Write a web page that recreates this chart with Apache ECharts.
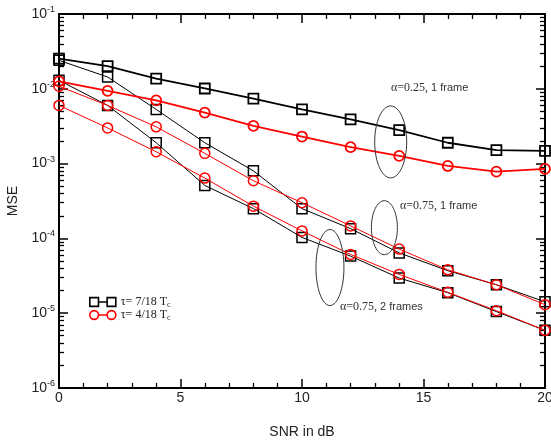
<!DOCTYPE html>
<html lang="en">
<head>
<meta charset="UTF-8">
<title>MSE vs SNR</title>
<script src="https://cdn.jsdelivr.net/npm/echarts@6/dist/echarts.min.js"></script>
<style>
    html, body { margin: 0; padding: 0; background: #fff; }
    #main { width: 551px; height: 444px; }
</style>
</head>
<body>
<div id="main"></div>
<script>
    // SNR (dB) sample points
    var snr = [0, 2, 4, 6, 8, 10, 12, 14, 16, 18, 20];

    // tau = 7/18 Tc (black squares)
    var t7_a25_1f = [0.0253, 0.0201, 0.0137, 0.0101, 0.0074, 0.0053, 0.0039, 0.0028, 0.0019, 0.00151, 0.00148];
    var t7_a75_1f = [0.024, 0.0144, 0.0053, 0.0019, 0.0008, 0.00025, 0.000135, 0.000064, 0.000037, 0.000024, 0.0000142];
    var t7_a75_2f = [0.013, 0.0060, 0.0019, 0.00051, 0.00025, 0.000103, 0.000058, 0.0000295, 0.0000188, 0.0000105, 0.0000059];

    // tau = 4/18 Tc (red circles)
    var t4_a25_1f = [0.0126, 0.0094, 0.0070, 0.0048, 0.0032, 0.0023, 0.00166, 0.00127, 0.00093, 0.00078, 0.00085];
    var t4_a75_1f = [0.0108, 0.0060, 0.0031, 0.00137, 0.00059, 0.0003, 0.000147, 0.000072, 0.000038, 0.000024, 0.000013];
    var t4_a75_2f = [0.0060, 0.0030, 0.00144, 0.00064, 0.00027, 0.000126, 0.000061, 0.000033, 0.000019, 0.0000108, 0.0000059];

    // minor ticks of the log axis: 2..9 in every decade
    var yMinorTicks = [];
    for (var k = -6; k < -1; k++) {
        for (var m = 2; m <= 9; m++) {
            yMinorTicks.push(m * Math.pow(10, k));
        }
    }

    // annotations: text + ellipse, placed in data coordinates
    var notes = [
        {a: 'α=0.25,', b: ' 1 frame', tx: 13.66, ty: 0.0102, ex: 13.65, ey: 0.00195, rx: 16, ry: 36},
        {a: 'α=0.75,', b: ' 1 frame', tx: 14.03, ty: 0.000271, ex: 13.39, ey: 0.000139, rx: 13, ry: 27},
        {a: 'α=0.75,', b: ' 2 frames', tx: 11.56, ty: 0.0000122, ex: 11.15, ey: 0.0000408, rx: 14, ry: 38}
    ];

    var T7 = 'τ= 7/18 T';
    var T4 = 'τ= 4/18 T';

    function pairs(vals) {
        return snr.map(function (x, i) { return [x, vals[i]]; });
    }

    function mkSeries(name, vals, color, symbol, lw, bw) {
        return {
            name: name,
            type: 'line',
            data: pairs(vals),
            symbol: symbol,
            symbolSize: 10,
            showAllSymbol: true,
            lineStyle: {color: color, width: lw},
            itemStyle: {color: 'rgba(0,0,0,0)', borderColor: color, borderWidth: bw},
            emphasis: {disabled: true},
            z: color === '#ff0000' ? 3 : 2
        };
    }

    var sqIcon = 'path://M0,0 L10,0 L10,10 L0,10 Z M10,5 L20,5 M20,0 L30,0 L30,10 L20,10 Z';
    var ciIcon = 'path://M0,5 A5,5 0 1,1 10,5 A5,5 0 1,1 0,5 Z M10,5 L20,5 M20,5 A5,5 0 1,1 30,5 A5,5 0 1,1 20,5 Z';

    var sans = 'Liberation Sans, Arial, sans-serif';
    var serif = 'Liberation Serif, Times New Roman, serif';

    function xAx(pos, labels) {
        return {
            type: 'value', position: pos, min: 0, max: 20, interval: 5,
            axisLine: {lineStyle: {color: '#000', width: 2}},
            axisTick: {inside: true, length: 9, lineStyle: {color: '#000', width: 1.5}},
            minorTick: {show: true, splitNumber: 5, length: 5, lineStyle: {color: '#000', width: 1.3}},
            splitLine: {show: false},
            axisLabel: {show: labels, fontSize: 14, margin: 3, fontFamily: sans, color: '#222'},
            name: labels ? 'SNR in dB' : '',
            nameLocation: 'middle', nameGap: 37,
            nameTextStyle: {fontSize: 14, fontFamily: sans, color: '#222'}
        };
    }

    function yAx(pos, minor, labels) {
        var ax = {
            type: 'log', logBase: 10, position: pos, min: 0.000001, max: 0.1,
            axisLine: {show: !minor, lineStyle: {color: '#000', width: 2}},
            axisTick: {inside: true, length: minor ? 5 : 9, lineStyle: {color: '#000', width: minor ? 1.3 : 1.5}},
            splitLine: {show: false},
            axisLabel: {show: false}
        };
        if (minor) ax.axisTick.customValues = yMinorTicks;
        if (labels) {
            ax.axisLabel = {
                show: true, margin: 4,
                formatter: function (v) {
                    return '{b|10}{s|' + Math.round(Math.log10(v)) + '}';
                },
                rich: {
                    b: {fontSize: 14, fontFamily: sans, color: '#222'},
                    s: {fontSize: 9, fontFamily: sans, color: '#222', padding: [0, 0, 9, 0]}
                }
            };
            ax.name = 'MSE';
            ax.nameLocation = 'middle';
            ax.nameGap = 38;
            ax.nameTextStyle = {fontSize: 14, fontFamily: sans, color: '#222'};
        }
        return ax;
    }

    var myChart = echarts.init(document.getElementById('main'));

    var option = {
        animation: false,
        backgroundColor: '#fff',
        grid: {left: 59, right: 6, top: 14, bottom: 56, containLabel: false, outerBoundsMode: 'none'},
        legend: {
            left: 84, top: 291, orient: 'vertical',
            itemWidth: 26, itemHeight: 10, itemGap: 0,
            selectedMode: false,
            data: [
                {name: T7, icon: sqIcon, itemStyle: {color: 'rgba(0,0,0,0)', borderColor: '#000', borderWidth: 1.6}},
                {name: T4, icon: ciIcon, itemStyle: {color: 'rgba(0,0,0,0)', borderColor: '#ff0000', borderWidth: 1.6}}
            ],
            formatter: function (name) { return '{r|' + name + '}{s|c}'; },
            textStyle: {
                rich: {
                    r: {fontSize: 12, fontFamily: serif, color: '#222'},
                    s: {fontSize: 8, fontFamily: serif, color: '#222', padding: [6, 0, 0, 0]}
                }
            }
        },
        xAxis: [xAx('bottom', true), xAx('top', false)],
        yAxis: [yAx('left', false, true), yAx('left', true, false), yAx('right', false, false), yAx('right', true, false)],
        series: [
            mkSeries(T7, t7_a25_1f, '#000', 'rect', 1.8, 1.8),
            mkSeries(T7, t7_a75_1f, '#000', 'rect', 1, 1.5),
            mkSeries(T7, t7_a75_2f, '#000', 'rect', 1, 1.5),
            mkSeries(T4, t4_a25_1f, '#ff0000', 'circle', 1.8, 1.8),
            mkSeries(T4, t4_a75_1f, '#ff0000', 'circle', 1, 1.5),
            mkSeries(T4, t4_a75_2f, '#ff0000', 'circle', 1, 1.5)
        ]
    };

    myChart.setOption(option);

    // annotation ellipses and labels from data coordinates
    var g = [];
    notes.forEach(function (n) {
        var c = myChart.convertToPixel({gridIndex: 0}, [n.ex, n.ey]);
        var t = myChart.convertToPixel({gridIndex: 0}, [n.tx, n.ty]);
        g.push({
            type: 'ellipse', silent: true, z: 10,
            shape: {cx: c[0], cy: c[1], rx: n.rx, ry: n.ry},
            style: {fill: 'none', stroke: '#333', lineWidth: 1}
        });
        g.push({
            type: 'text', silent: true, z: 10, x: t[0], y: t[1],
            style: {
                text: '{a|' + n.a + '}{b|' + n.b + '}',
                verticalAlign: 'middle',
                rich: {
                    a: {fontSize: 12, fontFamily: serif, fill: '#333'},
                    b: {fontSize: 11, fontFamily: sans, fill: '#333'}
                }
            }
        });
    });
    myChart.setOption({graphic: g});
</script>
</body>
</html>
